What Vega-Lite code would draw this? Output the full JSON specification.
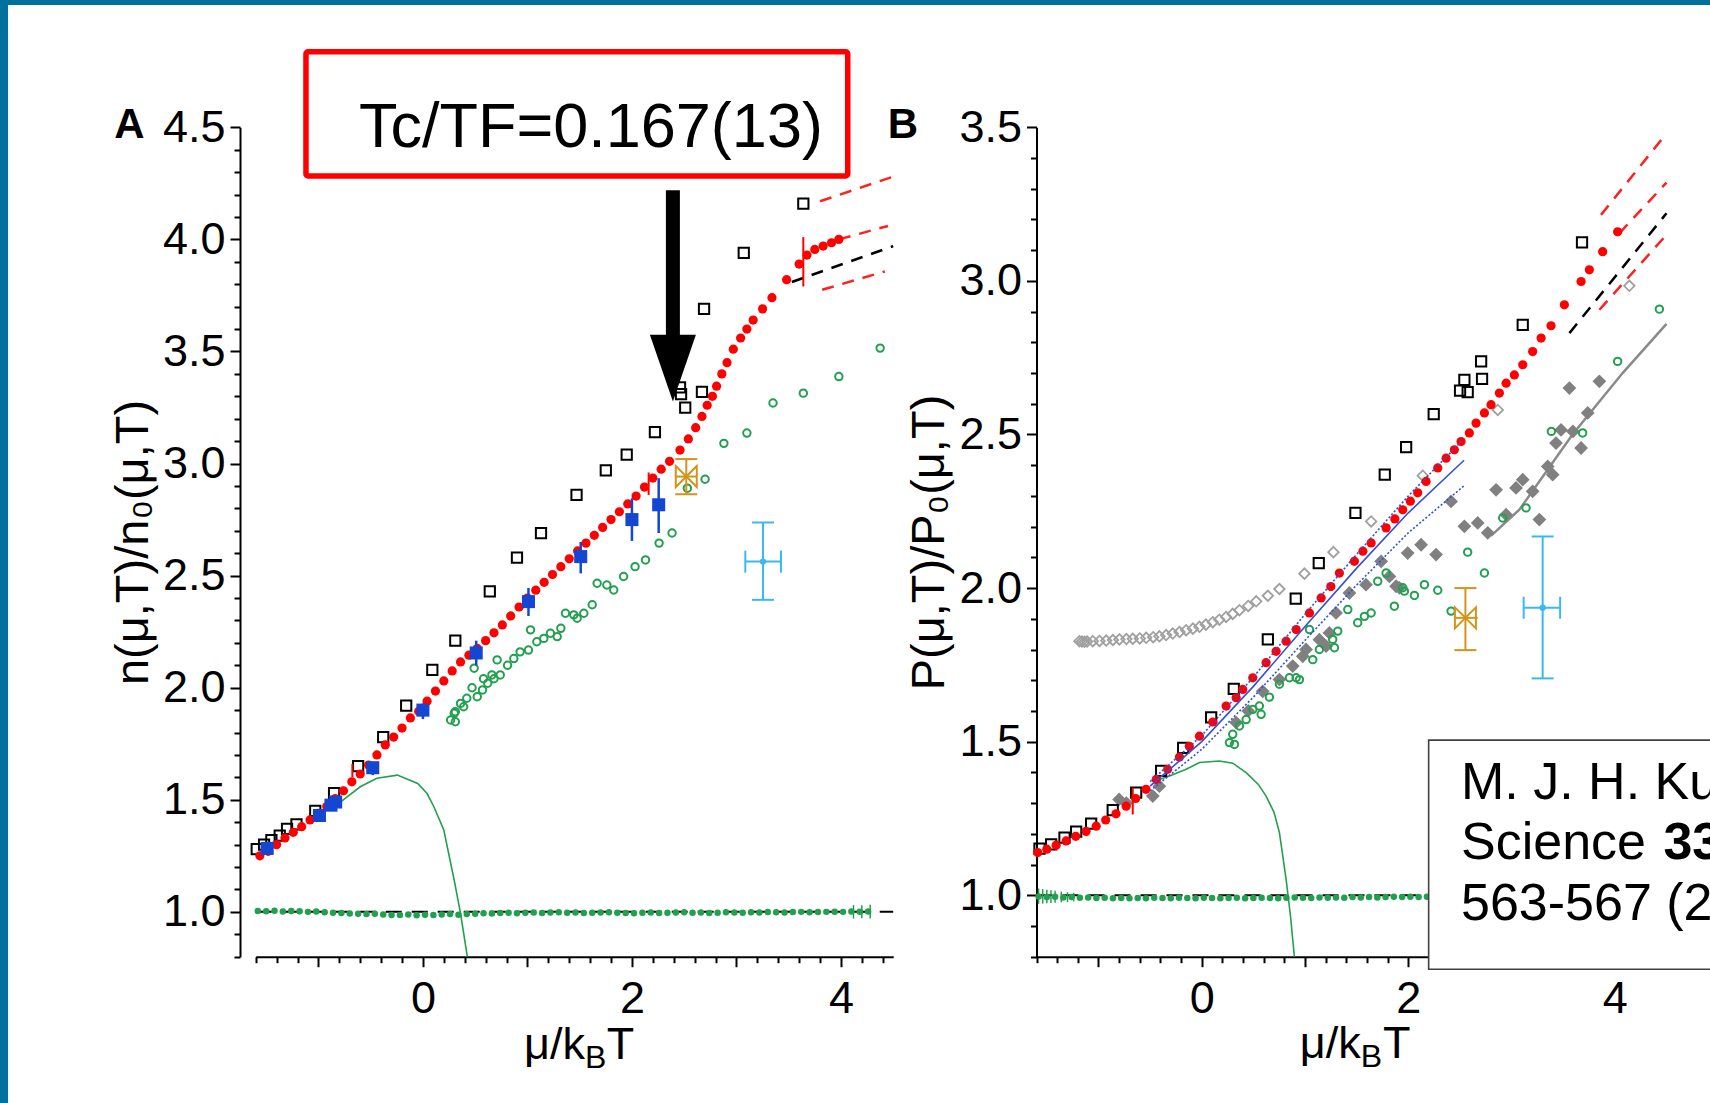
{
"$schema":"https://vega.github.io/schema/vega-lite/v6.json",
"width":1702,"height":1098,
"autosize":{"type":"none"},
"padding":{"left":8,"top":5,"right":0,"bottom":0},
"background":"#00709C",
"config":{"view":{"fill":"white","stroke":null},"font":"Liberation Sans",
 "axis":{"labelFont":"Liberation Sans","labelFontSize":45,"labelColor":"#000000","titleFont":"Liberation Sans","titleFontSize":47,"titleFontWeight":"normal","titleColor":"#000000","domainColor":"#000000","domainWidth":2,"tickColor":"#000000","tickWidth":2,"grid":false,"labelOverlap":false,"labelBound":false,"labelFlush":false}},
"datasets":{
"sqA":[{"x":-1.59,"y":1.28},{"x":-1.52,"y":1.30},{"x":-1.45,"y":1.32},{"x":-1.37,"y":1.34},{"x":-1.30,"y":1.37},{"x":-1.21,"y":1.39},{"x":-1.03,"y":1.45},{"x":-0.85,"y":1.53},{"x":-0.62,"y":1.65},{"x":-0.38,"y":1.78},{"x":-0.16,"y":1.92},{"x":0.09,"y":2.08},{"x":0.31,"y":2.21},{"x":0.64,"y":2.43},{"x":0.90,"y":2.58},{"x":1.13,"y":2.69},{"x":1.47,"y":2.86},{"x":1.75,"y":2.97},{"x":1.95,"y":3.04},{"x":2.22,"y":3.14},{"x":2.46,"y":3.34},{"x":2.47,"y":3.31},{"x":2.51,"y":3.25},{"x":2.67,"y":3.32},{"x":2.69,"y":3.69},{"x":3.07,"y":3.94},{"x":3.64,"y":4.16}],
"redA":[{"x":-1.56,"y":1.25},{"x":-1.48,"y":1.27},{"x":-1.40,"y":1.30},{"x":-1.32,"y":1.33},{"x":-1.24,"y":1.355},{"x":-1.16,"y":1.38},{"x":-1.08,"y":1.41},{"x":-1.00,"y":1.44},{"x":-0.92,"y":1.47},{"x":-0.84,"y":1.505},{"x":-0.76,"y":1.54},{"x":-0.68,"y":1.58},{"x":-0.60,"y":1.615},{"x":-0.52,"y":1.655},{"x":-0.44,"y":1.70},{"x":-0.36,"y":1.745},{"x":-0.28,"y":1.78},{"x":-0.20,"y":1.82},{"x":-0.12,"y":1.865},{"x":-0.04,"y":1.895},{"x":0.04,"y":1.94},{"x":0.12,"y":1.985},{"x":0.20,"y":2.03},{"x":0.28,"y":2.075},{"x":0.36,"y":2.115},{"x":0.44,"y":2.145},{"x":0.52,"y":2.175},{"x":0.60,"y":2.21},{"x":0.68,"y":2.245},{"x":0.76,"y":2.28},{"x":0.84,"y":2.32},{"x":0.92,"y":2.36},{"x":1.00,"y":2.40},{"x":1.08,"y":2.435},{"x":1.16,"y":2.47},{"x":1.24,"y":2.505},{"x":1.32,"y":2.54},{"x":1.40,"y":2.575},{"x":1.48,"y":2.61},{"x":1.56,"y":2.645},{"x":1.64,"y":2.68},{"x":1.72,"y":2.715},{"x":1.80,"y":2.75},{"x":1.88,"y":2.785},{"x":1.96,"y":2.82},{"x":2.04,"y":2.855},{"x":2.12,"y":2.895},{"x":2.20,"y":2.935},{"x":2.28,"y":2.975},{"x":2.36,"y":3.01},{"x":2.46,"y":3.06},{"x":2.54,"y":3.11},{"x":2.61,"y":3.16},{"x":2.67,"y":3.21},{"x":2.72,"y":3.26},{"x":2.77,"y":3.30},{"x":2.81,"y":3.345},{"x":2.86,"y":3.40},{"x":2.91,"y":3.45},{"x":2.97,"y":3.51},{"x":3.04,"y":3.56},{"x":3.10,"y":3.60},{"x":3.16,"y":3.64},{"x":3.25,"y":3.69},{"x":3.34,"y":3.74},{"x":3.48,"y":3.82},{"x":3.60,"y":3.89},{"x":3.675,"y":3.93},{"x":3.75,"y":3.955},{"x":3.83,"y":3.97},{"x":3.91,"y":3.985},{"x":3.98,"y":4.00}],
"bluA":[{"x":-1.49,"y":1.283},{"x":-0.99,"y":1.43},{"x":-0.88,"y":1.476},{"x":-0.835,"y":1.49},{"x":-0.48,"y":1.643},{"x":0.0,"y":1.90},{"x":0.51,"y":2.155},{"x":1.01,"y":2.384},{"x":1.51,"y":2.585},{"x":2.0,"y":2.75},{"x":2.256,"y":2.816}],
"bluErrA":[{"x":-1.49,"y":1.26,"y2":1.30},{"x":-0.99,"y":1.41,"y2":1.45},{"x":-0.88,"y":1.455,"y2":1.495},{"x":-0.835,"y":1.47,"y2":1.51},{"x":-0.48,"y":1.61,"y2":1.67},{"x":0.0,"y":1.86,"y2":1.93},{"x":0.51,"y":2.10,"y2":2.21},{"x":1.01,"y":2.32,"y2":2.445},{"x":1.51,"y":2.51,"y2":2.65},{"x":2.0,"y":2.655,"y2":2.845},{"x":2.256,"y":2.69,"y2":2.935}],
"grnA":[{"x":0.265,"y":1.856},{"x":0.30,"y":1.886},{"x":0.31,"y":1.848},{"x":0.31,"y":1.893},{"x":0.36,"y":1.93},{"x":0.39,"y":1.915},{"x":0.42,"y":1.953},{"x":0.47,"y":2.00},{"x":0.49,"y":2.087},{"x":0.52,"y":1.96},{"x":0.57,"y":1.99},{"x":0.58,"y":2.04},{"x":0.62,"y":2.02},{"x":0.66,"y":2.057},{"x":0.68,"y":2.04},{"x":0.71,"y":2.124},{"x":0.74,"y":2.057},{"x":0.81,"y":2.10},{"x":0.87,"y":2.13},{"x":0.93,"y":2.16},{"x":1.01,"y":2.168},{"x":1.03,"y":2.258},{"x":1.09,"y":2.205},{"x":1.157,"y":2.22},{"x":1.22,"y":2.243},{"x":1.285,"y":2.228},{"x":1.32,"y":2.265},{"x":1.364,"y":2.332},{"x":1.444,"y":2.325},{"x":1.476,"y":2.31},{"x":1.54,"y":2.332},{"x":1.62,"y":2.37},{"x":1.667,"y":2.466},{"x":1.76,"y":2.458},{"x":1.826,"y":2.436},{"x":1.92,"y":2.496},{"x":2.03,"y":2.54},{"x":2.13,"y":2.57},{"x":2.26,"y":2.645},{"x":2.384,"y":2.69},{"x":2.53,"y":2.89},{"x":2.70,"y":2.93},{"x":2.88,"y":3.09},{"x":3.10,"y":3.136},{"x":3.35,"y":3.27},{"x":3.64,"y":3.314},{"x":3.98,"y":3.388},{"x":4.375,"y":3.515}],
"curveA":[{"x":-0.85,"y":1.47},{"x":-0.79,"y":1.49},{"x":-0.60,"y":1.558},{"x":-0.44,"y":1.596},{"x":-0.245,"y":1.61},{"x":-0.05,"y":1.573},{"x":0.04,"y":1.528},{"x":0.105,"y":1.469},{"x":0.20,"y":1.365},{"x":0.30,"y":1.14},{"x":0.36,"y":0.993},{"x":0.425,"y":0.80}],
"oneA":[{"x":-1.6,"y":1.0},{"x":4.5,"y":1.0}],
"g1A":[{"x":-1.58,"y":1.004},{"x":-1.50,"y":1.003},{"x":-1.42,"y":1.005},{"x":-1.34,"y":1.002},{"x":-1.26,"y":1.004},{"x":-1.18,"y":1.003},{"x":-1.10,"y":1.0},{"x":-1.02,"y":1.002},{"x":-0.94,"y":0.998},{"x":-0.86,"y":0.996},{"x":-0.78,"y":0.995},{"x":-0.70,"y":0.993},{"x":-0.62,"y":0.992},{"x":-0.54,"y":0.99},{"x":-0.46,"y":0.992},{"x":-0.38,"y":0.988},{"x":-0.30,"y":0.986},{"x":-0.22,"y":0.986},{"x":-0.14,"y":0.988},{"x":-0.06,"y":0.985},{"x":0.02,"y":0.987},{"x":0.10,"y":0.986},{"x":0.18,"y":0.988},{"x":0.26,"y":0.99},{"x":0.34,"y":0.987},{"x":0.42,"y":0.99},{"x":0.50,"y":0.992},{"x":0.58,"y":0.994},{"x":0.66,"y":0.993},{"x":0.74,"y":0.995},{"x":0.82,"y":0.996},{"x":0.90,"y":0.994},{"x":0.98,"y":0.996},{"x":1.06,"y":0.997},{"x":1.14,"y":0.995},{"x":1.22,"y":0.997},{"x":1.30,"y":0.998},{"x":1.38,"y":0.996},{"x":1.46,"y":0.997},{"x":1.54,"y":0.995},{"x":1.62,"y":0.996},{"x":1.70,"y":0.997},{"x":1.78,"y":0.998},{"x":1.86,"y":0.996},{"x":1.94,"y":0.995},{"x":2.02,"y":0.994},{"x":2.10,"y":0.996},{"x":2.18,"y":0.997},{"x":2.26,"y":0.995},{"x":2.34,"y":0.996},{"x":2.42,"y":0.997},{"x":2.50,"y":0.998},{"x":2.58,"y":0.996},{"x":2.66,"y":0.997},{"x":2.74,"y":0.995},{"x":2.82,"y":0.996},{"x":2.90,"y":0.998},{"x":2.98,"y":0.997},{"x":3.06,"y":0.996},{"x":3.14,"y":0.998},{"x":3.22,"y":0.997},{"x":3.30,"y":0.999},{"x":3.38,"y":0.998},{"x":3.46,"y":0.997},{"x":3.54,"y":0.999},{"x":3.62,"y":1.0},{"x":3.70,"y":0.998},{"x":3.78,"y":0.999},{"x":3.86,"y":1.0},{"x":3.94,"y":1.001},{"x":4.02,"y":1.0},{"x":4.10,"y":1.002},{"x":4.18,"y":1.001},{"x":4.26,"y":1.002}],
"g1errA":[{"x":4.12,"y":0.97,"y2":1.03},{"x":4.20,"y":0.972,"y2":1.03},{"x":4.28,"y":0.97,"y2":1.032}],
"rdashA":[{"s":"a","x":3.80,"y":4.17},{"s":"a","x":4.5,"y":4.28},{"s":"b","x":3.98,"y":4.0},{"s":"b","x":4.45,"y":4.06},{"s":"c","x":3.82,"y":3.775},{"s":"c","x":4.42,"y":3.857}],
"kdashA":[{"x":3.53,"y":3.81},{"x":4.5,"y":3.97}],
"rerrA":[{"x":-0.675,"y":1.60,"y2":1.66},{"x":2.16,"y":2.86,"y2":2.96},{"x":3.64,"y":3.79,"y2":4.01}],
"orPtA":[{"x":2.52,"y":2.942}],
"orVA":[{"x":2.52,"y":2.863,"y2":3.02}],
"orHA":[{"x":2.416,"x2":2.623,"y":2.942}],
"orCapA":[{"x":2.52,"y":2.863},{"x":2.52,"y":3.02}],
"lbPtA":[{"x":3.254,"y":2.5625}],
"lbVA":[{"x":3.254,"y":2.392,"y2":2.737}],
"lbHA":[{"x":3.085,"x2":3.426,"y":2.5625}],
"lbCapHA":[{"x":3.254,"y":2.392},{"x":3.254,"y":2.737}],
"lbCapVA":[{"x":3.085,"y":2.5625},{"x":3.426,"y":2.5625}],
"sqB":[{"x":-1.571,"y":1.152},{"x":-1.458,"y":1.166},{"x":-1.329,"y":1.188},{"x":-1.216,"y":1.207},{"x":-1.071,"y":1.233},{"x":-0.862,"y":1.277},{"x":-0.635,"y":1.334},{"x":-0.393,"y":1.405},{"x":-0.18,"y":1.48},{"x":0.091,"y":1.579},{"x":0.31,"y":1.672},{"x":0.64,"y":1.833},{"x":0.91,"y":1.966},{"x":1.133,"y":2.081},{"x":1.488,"y":2.245},{"x":1.772,"y":2.369},{"x":1.979,"y":2.459},{"x":2.246,"y":2.566},{"x":2.501,"y":2.643},{"x":2.543,"y":2.678},{"x":2.575,"y":2.638},{"x":2.714,"y":2.681},{"x":2.705,"y":2.738},{"x":3.108,"y":2.857},{"x":3.682,"y":3.125}],
"redB":[{"x":-1.588,"y":1.139},{"x":-1.50,"y":1.15},{"x":-1.41,"y":1.163},{"x":-1.313,"y":1.177},{"x":-1.22,"y":1.192},{"x":-1.12,"y":1.208},{"x":-1.022,"y":1.225},{"x":-0.93,"y":1.245},{"x":-0.83,"y":1.265},{"x":-0.732,"y":1.29},{"x":-0.64,"y":1.315},{"x":-0.54,"y":1.345},{"x":-0.441,"y":1.377},{"x":-0.33,"y":1.41},{"x":-0.216,"y":1.45},{"x":-0.12,"y":1.485},{"x":-0.022,"y":1.518},{"x":0.107,"y":1.564},{"x":0.236,"y":1.616},{"x":0.333,"y":1.643},{"x":0.397,"y":1.67},{"x":0.494,"y":1.708},{"x":0.623,"y":1.757},{"x":0.72,"y":1.794},{"x":0.817,"y":1.827},{"x":0.914,"y":1.865},{"x":1.043,"y":1.919},{"x":1.156,"y":1.968},{"x":1.25,"y":2.005},{"x":1.333,"y":2.049},{"x":1.478,"y":2.087},{"x":1.56,"y":2.12},{"x":1.64,"y":2.147},{"x":1.785,"y":2.196},{"x":1.87,"y":2.225},{"x":1.946,"y":2.255},{"x":2.02,"y":2.283},{"x":2.091,"y":2.31},{"x":2.172,"y":2.347},{"x":2.285,"y":2.391},{"x":2.366,"y":2.423},{"x":2.446,"y":2.45},{"x":2.511,"y":2.477},{"x":2.591,"y":2.505},{"x":2.656,"y":2.537},{"x":2.737,"y":2.57},{"x":2.801,"y":2.597},{"x":2.882,"y":2.635},{"x":2.947,"y":2.667},{"x":3.027,"y":2.694},{"x":3.108,"y":2.727},{"x":3.204,"y":2.77},{"x":3.286,"y":2.814},{"x":3.382,"y":2.854},{"x":3.511,"y":2.922},{"x":3.673,"y":2.998},{"x":3.753,"y":3.036},{"x":3.882,"y":3.095},{"x":4.027,"y":3.16}],
"gdoB":[{"x":-1.184,"y":1.827},{"x":-1.16,"y":1.826},{"x":-1.135,"y":1.825},{"x":-1.11,"y":1.826},{"x":-1.055,"y":1.827},{"x":-0.99,"y":1.828},{"x":-0.925,"y":1.829},{"x":-0.86,"y":1.831},{"x":-0.797,"y":1.833},{"x":-0.73,"y":1.834},{"x":-0.668,"y":1.835},{"x":-0.60,"y":1.836},{"x":-0.538,"y":1.838},{"x":-0.47,"y":1.84},{"x":-0.41,"y":1.843},{"x":-0.345,"y":1.847},{"x":-0.281,"y":1.852},{"x":-0.215,"y":1.857},{"x":-0.151,"y":1.863},{"x":-0.085,"y":1.868},{"x":-0.022,"y":1.874},{"x":0.04,"y":1.881},{"x":0.107,"y":1.889},{"x":0.17,"y":1.897},{"x":0.236,"y":1.906},{"x":0.30,"y":1.916},{"x":0.365,"y":1.928},{"x":0.45,"y":1.942},{"x":0.527,"y":1.957},{"x":0.64,"y":1.975},{"x":0.752,"y":1.997},{"x":0.994,"y":2.047},{"x":1.275,"y":2.117},{"x":1.64,"y":2.217},{"x":2.14,"y":2.366},{"x":2.866,"y":2.58},{"x":4.14,"y":2.984}],
"gdfB":[{"x":-0.80,"y":1.312},{"x":-0.73,"y":1.30},{"x":-0.474,"y":1.323},{"x":-0.41,"y":1.355},{"x":0.333,"y":1.562},{"x":0.45,"y":1.60},{"x":0.59,"y":1.664},{"x":0.752,"y":1.702},{"x":0.881,"y":1.746},{"x":0.978,"y":1.778},{"x":1.01,"y":1.80},{"x":1.139,"y":1.832},{"x":1.204,"y":1.811},{"x":1.236,"y":1.854},{"x":1.30,"y":1.919},{"x":1.43,"y":1.984},{"x":1.59,"y":2.011},{"x":1.737,"y":2.087},{"x":1.817,"y":2.038},{"x":1.882,"y":2.006},{"x":1.914,"y":2.001},{"x":1.994,"y":2.114},{"x":2.124,"y":2.141},{"x":2.269,"y":2.109},{"x":2.414,"y":2.282},{"x":2.543,"y":2.201},{"x":2.672,"y":2.212},{"x":2.769,"y":2.18},{"x":2.85,"y":2.32},{"x":2.947,"y":2.239},{"x":3.043,"y":2.326},{"x":3.108,"y":2.353},{"x":3.204,"y":2.315},{"x":3.269,"y":2.223},{"x":3.35,"y":2.396},{"x":3.398,"y":2.369},{"x":3.43,"y":2.472},{"x":3.479,"y":2.515},{"x":3.56,"y":2.651},{"x":3.594,"y":2.51},{"x":3.673,"y":2.456},{"x":3.737,"y":2.57},{"x":3.85,"y":2.673}],
"grnB":[{"x":0.268,"y":1.497},{"x":0.30,"y":1.524},{"x":0.317,"y":1.491},{"x":0.365,"y":1.551},{"x":0.43,"y":1.572},{"x":0.494,"y":1.605},{"x":0.558,"y":1.616},{"x":0.575,"y":1.589},{"x":0.655,"y":1.645},{"x":0.752,"y":1.687},{"x":0.849,"y":1.708},{"x":0.914,"y":1.708},{"x":0.946,"y":1.702},{"x":1.043,"y":1.865},{"x":1.075,"y":1.767},{"x":1.139,"y":1.80},{"x":1.268,"y":1.833},{"x":1.285,"y":1.806},{"x":1.317,"y":1.86},{"x":1.414,"y":1.93},{"x":1.51,"y":1.887},{"x":1.575,"y":1.908},{"x":1.64,"y":1.919},{"x":1.704,"y":2.022},{"x":1.785,"y":2.049},{"x":1.865,"y":1.941},{"x":1.946,"y":2.001},{"x":1.962,"y":1.99},{"x":2.059,"y":1.976},{"x":2.156,"y":2.011},{"x":2.285,"y":1.993},{"x":2.414,"y":1.925},{"x":2.575,"y":2.117},{"x":2.737,"y":2.049},{"x":2.914,"y":2.228},{"x":3.14,"y":2.261},{"x":3.385,"y":2.51},{"x":3.688,"y":2.505},{"x":4.027,"y":2.738},{"x":4.431,"y":2.908}],
"curveB":[{"x":-0.41,"y":1.377},{"x":-0.30,"y":1.39},{"x":-0.151,"y":1.41},{"x":-0.022,"y":1.432},{"x":0.171,"y":1.437},{"x":0.30,"y":1.43},{"x":0.43,"y":1.399},{"x":0.55,"y":1.36},{"x":0.623,"y":1.323},{"x":0.70,"y":1.27},{"x":0.752,"y":1.204},{"x":0.817,"y":1.052},{"x":0.86,"y":0.93},{"x":0.897,"y":0.80}],
"oneB":[{"x":-1.6,"y":1.0},{"x":4.5,"y":1.0}],
"g1B":[{"x":-1.58,"y":0.996},{"x":-1.50,"y":0.994},{"x":-1.42,"y":0.995},{"x":-1.34,"y":0.993},{"x":-1.26,"y":0.994},{"x":-1.18,"y":0.992},{"x":-1.10,"y":0.993},{"x":-1.02,"y":0.991},{"x":-0.94,"y":0.992},{"x":-0.86,"y":0.99},{"x":-0.78,"y":0.991},{"x":-0.70,"y":0.99},{"x":-0.62,"y":0.991},{"x":-0.54,"y":0.99},{"x":-0.46,"y":0.992},{"x":-0.38,"y":0.991},{"x":-0.30,"y":0.99},{"x":-0.22,"y":0.992},{"x":-0.14,"y":0.991},{"x":-0.06,"y":0.99},{"x":0.02,"y":0.992},{"x":0.10,"y":0.991},{"x":0.18,"y":0.99},{"x":0.26,"y":0.991},{"x":0.34,"y":0.992},{"x":0.42,"y":0.99},{"x":0.50,"y":0.991},{"x":0.58,"y":0.992},{"x":0.66,"y":0.991},{"x":0.74,"y":0.99},{"x":0.82,"y":0.992},{"x":0.90,"y":0.993},{"x":0.98,"y":0.992},{"x":1.06,"y":0.991},{"x":1.14,"y":0.993},{"x":1.22,"y":0.992},{"x":1.30,"y":0.993},{"x":1.38,"y":0.992},{"x":1.46,"y":0.994},{"x":1.54,"y":0.993},{"x":1.62,"y":0.994},{"x":1.70,"y":0.993},{"x":1.78,"y":0.994},{"x":1.86,"y":0.995},{"x":1.94,"y":0.994},{"x":2.02,"y":0.995},{"x":2.10,"y":0.994},{"x":2.18,"y":0.995}],
"g1errB":[{"x":-1.58,"y":0.972,"y2":1.022},{"x":-1.54,"y":0.973,"y2":1.02},{"x":-1.50,"y":0.974,"y2":1.018},{"x":-1.46,"y":0.975,"y2":1.016},{"x":-1.42,"y":0.976,"y2":1.015},{"x":-1.36,"y":0.977,"y2":1.012},{"x":-1.30,"y":0.978,"y2":1.01},{"x":-1.24,"y":0.98,"y2":1.008}],
"rdashB":[{"s":"a","x":3.866,"y":3.215},{"s":"a","x":4.5,"y":3.48},{"s":"b","x":4.043,"y":3.155},{"s":"b","x":4.5,"y":3.32},{"s":"c","x":3.85,"y":2.906},{"s":"c","x":4.5,"y":3.15}],
"kdashB":[{"x":3.56,"y":2.83},{"x":4.5,"y":3.22}],
"greyB":[{"x":2.80,"y":2.17},{"x":3.075,"y":2.255},{"x":3.59,"y":2.50},{"x":4.075,"y":2.70},{"x":4.5,"y":2.86}],
"bluBm":[{"x":-0.5,"y":1.355},{"x":0,"y":1.50},{"x":0.5,"y":1.68},{"x":1.0,"y":1.875},{"x":1.5,"y":2.065},{"x":2.0,"y":2.245},{"x":2.54,"y":2.416}],
"bluBd":[{"s":"u","x":-0.5,"y":1.37},{"s":"u","x":0,"y":1.52},{"s":"u","x":0.5,"y":1.71},{"s":"u","x":1.0,"y":1.915},{"s":"u","x":1.5,"y":2.11},{"s":"u","x":2.0,"y":2.30},{"s":"u","x":2.53,"y":2.483},{"s":"l","x":-0.5,"y":1.34},{"s":"l","x":0,"y":1.475},{"s":"l","x":0.5,"y":1.645},{"s":"l","x":1.0,"y":1.83},{"s":"l","x":1.5,"y":2.01},{"s":"l","x":2.0,"y":2.18},{"s":"l","x":2.54,"y":2.333}],
"rerrB":[{"x":-0.668,"y":1.263,"y2":1.35}],
"orPtB":[{"x":2.553,"y":1.903}],
"orVB":[{"x":2.553,"y":1.798,"y2":2.0}],
"orHB":[{"x":2.446,"x2":2.672,"y":1.903}],
"orCapB":[{"x":2.553,"y":1.798},{"x":2.553,"y":2.0}],
"lbPtB":[{"x":3.301,"y":1.936}],
"lbVB":[{"x":3.301,"y":1.706,"y2":2.168}],
"lbHB":[{"x":3.117,"x2":3.47,"y":1.936}],
"lbCapHB":[{"x":3.301,"y":1.706},{"x":3.301,"y":2.168}],
"lbCapVB":[{"x":3.117,"y":1.936},{"x":3.47,"y":1.936}]
},
"layer":[
{
"encoding":{
 "x":{"field":"x","type":"quantitative","scale":{"domain":[-1.6,4.5],"range":[247.7,885.2],"nice":false,"zero":false},
  "axis":{"orient":"bottom","offset":-146.3,"values":[-1.6,-1.4,-1.2,-1,-0.8,-0.6,-0.4,-0.2,0,0.2,0.4,0.6,0.8,1,1.2,1.4,1.6,1.8,2,2.2,2.4,2.6,2.8,3,3.2,3.4,3.6,3.8,4,4.2,4.4],
   "tickSize":{"condition":{"test":"abs(datum.value-round(datum.value))<0.001","value":10},"value":6},
   "labelExpr":"(abs(datum.value-round(datum.value))<0.001 && round(datum.value)%2==0) ? format(round(datum.value),'d') : ''",
   "labelPadding":10,"title":null}},
 "y":{"field":"y","type":"quantitative","scale":{"domain":[0.8,4.5],"range":[951.7,122.3],"nice":false,"zero":false},
  "axis":{"orient":"left","offset":-232,"values":[0.8,0.9,1,1.1,1.2,1.3,1.4,1.5,1.6,1.7,1.8,1.9,2,2.1,2.2,2.3,2.4,2.5,2.6,2.7,2.8,2.9,3,3.1,3.2,3.3,3.4,3.5,3.6,3.7,3.8,3.9,4,4.1,4.2,4.3,4.4,4.5],
   "tickSize":{"condition":{"test":"abs(datum.value*2-round(datum.value*2))<0.001","value":10},"value":6},
   "labelExpr":"abs(datum.value*2-round(datum.value*2))<0.001 ? format(datum.value,'.1f') : ''",
   "labelPadding":5,"title":"n(μ,T)/n₀(μ,T)","titlePadding":5}}
},
"layer":[
 {"data":{"name":"curveA"},"mark":{"type":"line","color":"#22A050","strokeWidth":1.6}},
 {"data":{"name":"oneA"},"mark":{"type":"line","color":"#000000","strokeWidth":2,"strokeDash":[16,10]}},
 {"data":{"name":"g1A"},"mark":{"type":"point","shape":"circle","filled":true,"color":"#22A050","size":42,"opacity":1}},
 {"data":{"name":"g1errA"},"mark":{"type":"rule","color":"#22A050","strokeWidth":1.5},"encoding":{"y2":{"field":"y2"}}},
 {"data":{"name":"rdashA"},"mark":{"type":"line","color":"#FF2020","strokeWidth":2.5,"strokeDash":[12,9]},"encoding":{"detail":{"field":"s"}}},
 {"data":{"name":"kdashA"},"mark":{"type":"line","color":"#000000","strokeWidth":2.5,"strokeDash":[12,9]}},
 {"data":{"name":"grnA"},"mark":{"type":"point","shape":"circle","filled":false,"color":"#22A050","strokeWidth":2,"size":55,"opacity":1}},
 {"data":{"name":"sqA"},"mark":{"type":"point","shape":"square","filled":false,"color":"#000000","strokeWidth":2,"size":105,"opacity":1}},
 {"data":{"name":"redA"},"mark":{"type":"point","shape":"circle","filled":true,"color":"#FF0000","size":85,"opacity":1}},
 {"data":{"name":"rerrA"},"mark":{"type":"rule","color":"#FF0000","strokeWidth":2},"encoding":{"y2":{"field":"y2"}}},
 {"data":{"name":"bluErrA"},"mark":{"type":"rule","color":"#1446D2","strokeWidth":2.5},"encoding":{"y2":{"field":"y2"}}},
 {"data":{"name":"bluA"},"mark":{"type":"point","shape":"square","filled":true,"color":"#1446D2","size":170,"opacity":1}},
 {"data":{"name":"orVA"},"mark":{"type":"rule","color":"#D4941C","strokeWidth":2},"encoding":{"y2":{"field":"y2"}}},
 {"data":{"name":"orHA"},"mark":{"type":"rule","color":"#D4941C","strokeWidth":2},"encoding":{"x2":{"field":"x2"}}},
 {"data":{"name":"orCapA"},"mark":{"type":"tick","orient":"horizontal","size":22,"thickness":2,"color":"#D4941C","opacity":1}},
 {"data":{"name":"orPtA"},"mark":{"type":"point","shape":"M-1,-1L0,0L-1,1Z M1,-1L0,0L1,1Z","filled":false,"color":"#D4941C","strokeWidth":2,"size":441,"opacity":1}},
 {"data":{"name":"lbVA"},"mark":{"type":"rule","color":"#3CB8F0","strokeWidth":2},"encoding":{"y2":{"field":"y2"}}},
 {"data":{"name":"lbHA"},"mark":{"type":"rule","color":"#3CB8F0","strokeWidth":2},"encoding":{"x2":{"field":"x2"}}},
 {"data":{"name":"lbCapHA"},"mark":{"type":"tick","orient":"horizontal","size":22,"thickness":2,"color":"#3CB8F0","opacity":1}},
 {"data":{"name":"lbCapVA"},"mark":{"type":"tick","orient":"vertical","size":22,"thickness":2,"color":"#3CB8F0","opacity":1}},
 {"data":{"name":"lbPtA"},"mark":{"type":"point","shape":"circle","filled":true,"color":"#3CB8F0","size":40,"opacity":1}},
 {"data":{"values":[{"x":-1.119,"x2":4.065,"y":4.283,"y2":4.837}]},"mark":{"type":"rect","fill":"#FFFFFF","fillOpacity":0,"stroke":"#FF0000","strokeWidth":5.5,"cornerRadius":2},"encoding":{"x2":{"field":"x2"},"y2":{"field":"y2"}}},
 {"data":{"values":[{"t":"Tc/TF=0.167(13)","x":-0.612,"y":4.413}]},"mark":{"type":"text","align":"left","baseline":"alphabetic","font":"Liberation Sans","fontSize":63,"color":"#000000"},"encoding":{"text":{"field":"t"}}},
 {"data":{"values":[{"x":2.392,"y":3.55,"y2":4.219}]},"mark":{"type":"rule","color":"#000000","strokeWidth":14},"encoding":{"y2":{"field":"y2"}}},
 {"data":{"values":[{"x":2.392,"y":3.426}]},"mark":{"type":"point","shape":"M-1,-1.45L1,-1.45L0,1.45Z","filled":true,"color":"#000000","size":2116,"opacity":1}},
 {"data":{"values":[{"t":"A","x":-2.954,"y":4.453}]},"mark":{"type":"text","align":"left","baseline":"alphabetic","font":"Liberation Sans","fontWeight":"bold","fontSize":42,"color":"#000000"},"encoding":{"text":{"field":"t"}}},
 {"data":{"values":[{"t":"μ/k","x":1.55,"y":0.3424}]},"mark":{"type":"text","align":"right","baseline":"alphabetic","font":"Liberation Sans","fontSize":45,"color":"#000000"},"encoding":{"text":{"field":"t"}}},
 {"data":{"values":[{"t":"B","x":1.55,"y":0.302}]},"mark":{"type":"text","align":"left","baseline":"alphabetic","font":"Liberation Sans","fontSize":32,"color":"#000000"},"encoding":{"text":{"field":"t"}}},
 {"data":{"values":[{"t":"T","x":1.76,"y":0.3424}]},"mark":{"type":"text","align":"left","baseline":"alphabetic","font":"Liberation Sans","fontSize":45,"color":"#000000"},"encoding":{"text":{"field":"t"}}}
]
},
{
"encoding":{
 "x":{"field":"x","type":"quantitative","scale":{"domain":[-1.6,4.5],"range":[1028.5,1658.5],"nice":false,"zero":false},
  "axis":{"orient":"bottom","offset":-146.3,"values":[-1.6,-1.4,-1.2,-1,-0.8,-0.6,-0.4,-0.2,0,0.2,0.4,0.6,0.8,1,1.2,1.4,1.6,1.8,2,2.2,2.4,2.6,2.8,3,3.2,3.4,3.6,3.8,4,4.2,4.4],
   "tickSize":{"condition":{"test":"abs(datum.value-round(datum.value))<0.001","value":10},"value":6},
   "labelExpr":"(abs(datum.value-round(datum.value))<0.001 && round(datum.value)%2==0) ? format(round(datum.value),'d') : ''",
   "labelPadding":10,"title":null}},
 "y":{"field":"y","type":"quantitative","scale":{"domain":[0.8,3.5],"range":[951.7,122.3],"nice":false,"zero":false},
  "axis":{"orient":"left","offset":-1028.5,"values":[0.8,0.9,1,1.1,1.2,1.3,1.4,1.5,1.6,1.7,1.8,1.9,2,2.1,2.2,2.3,2.4,2.5,2.6,2.7,2.8,2.9,3,3.1,3.2,3.3,3.4,3.5],
   "tickSize":{"condition":{"test":"abs(datum.value*2-round(datum.value*2))<0.001","value":10},"value":6},
   "labelExpr":"abs(datum.value*2-round(datum.value*2))<0.001 ? format(datum.value,'.1f') : ''",
   "labelPadding":5,"title":"P(μ,T)/P₀(μ,T)","titlePadding":5}}
},
"layer":[
 {"data":{"name":"curveB"},"mark":{"type":"line","color":"#22A050","strokeWidth":1.6}},
 {"data":{"name":"oneB"},"mark":{"type":"line","color":"#000000","strokeWidth":2,"strokeDash":[16,10]}},
 {"data":{"name":"g1B"},"mark":{"type":"point","shape":"circle","filled":true,"color":"#22A050","size":42,"opacity":1}},
 {"data":{"name":"g1errB"},"mark":{"type":"rule","color":"#22A050","strokeWidth":1.5},"encoding":{"y2":{"field":"y2"}}},
 {"data":{"name":"rdashB"},"mark":{"type":"line","color":"#FF2020","strokeWidth":2.5,"strokeDash":[12,9]},"encoding":{"detail":{"field":"s"}}},
 {"data":{"name":"kdashB"},"mark":{"type":"line","color":"#000000","strokeWidth":2.5,"strokeDash":[12,9]}},
 {"data":{"name":"greyB"},"mark":{"type":"line","color":"#8A8A8A","strokeWidth":2.5}},
 {"data":{"name":"gdoB"},"mark":{"type":"point","shape":"diamond","filled":false,"color":"#A0A0A0","strokeWidth":1.8,"size":110,"opacity":1}},
 {"data":{"name":"gdfB"},"mark":{"type":"point","shape":"diamond","filled":true,"color":"#808080","size":190,"opacity":1}},
 {"data":{"name":"grnB"},"mark":{"type":"point","shape":"circle","filled":false,"color":"#22A050","strokeWidth":2,"size":55,"opacity":1}},
 {"data":{"name":"sqB"},"mark":{"type":"point","shape":"square","filled":false,"color":"#000000","strokeWidth":2,"size":105,"opacity":1}},
 {"data":{"name":"redB"},"mark":{"type":"point","shape":"circle","filled":true,"color":"#FF0000","size":85,"opacity":1}},
 {"data":{"name":"bluBm"},"mark":{"type":"line","color":"#3050E0","strokeWidth":1.6}},
 {"data":{"name":"bluBd"},"mark":{"type":"line","color":"#3050E0","strokeWidth":1.6,"strokeDash":[2,2]},"encoding":{"detail":{"field":"s"}}},
 {"data":{"name":"rerrB"},"mark":{"type":"rule","color":"#FF0000","strokeWidth":2},"encoding":{"y2":{"field":"y2"}}},
 {"data":{"name":"orVB"},"mark":{"type":"rule","color":"#D4941C","strokeWidth":2},"encoding":{"y2":{"field":"y2"}}},
 {"data":{"name":"orHB"},"mark":{"type":"rule","color":"#D4941C","strokeWidth":2},"encoding":{"x2":{"field":"x2"}}},
 {"data":{"name":"orCapB"},"mark":{"type":"tick","orient":"horizontal","size":22,"thickness":2,"color":"#D4941C","opacity":1}},
 {"data":{"name":"orPtB"},"mark":{"type":"point","shape":"M-1,-1L0,0L-1,1Z M1,-1L0,0L1,1Z","filled":false,"color":"#D4941C","strokeWidth":2,"size":441,"opacity":1}},
 {"data":{"name":"lbVB"},"mark":{"type":"rule","color":"#3CB8F0","strokeWidth":2},"encoding":{"y2":{"field":"y2"}}},
 {"data":{"name":"lbHB"},"mark":{"type":"rule","color":"#3CB8F0","strokeWidth":2},"encoding":{"x2":{"field":"x2"}}},
 {"data":{"name":"lbCapHB"},"mark":{"type":"tick","orient":"horizontal","size":22,"thickness":2,"color":"#3CB8F0","opacity":1}},
 {"data":{"name":"lbCapVB"},"mark":{"type":"tick","orient":"vertical","size":22,"thickness":2,"color":"#3CB8F0","opacity":1}},
 {"data":{"name":"lbPtB"},"mark":{"type":"point","shape":"circle","filled":true,"color":"#3CB8F0","size":40,"opacity":1}},
 {"data":{"values":[{"t":"B","x":-3.04,"y":3.464}]},"mark":{"type":"text","align":"left","baseline":"alphabetic","font":"Liberation Sans","fontWeight":"bold","fontSize":42,"color":"#000000"},"encoding":{"text":{"field":"t"}}},
 {"data":{"values":[{"t":"μ/k","x":1.54,"y":0.47}]},"mark":{"type":"text","align":"right","baseline":"alphabetic","font":"Liberation Sans","fontSize":45,"color":"#000000"},"encoding":{"text":{"field":"t"}}},
 {"data":{"values":[{"t":"B","x":1.54,"y":0.4407}]},"mark":{"type":"text","align":"left","baseline":"alphabetic","font":"Liberation Sans","fontSize":32,"color":"#000000"},"encoding":{"text":{"field":"t"}}},
 {"data":{"values":[{"t":"T","x":1.755,"y":0.47}]},"mark":{"type":"text","align":"left","baseline":"alphabetic","font":"Liberation Sans","fontSize":45,"color":"#000000"},"encoding":{"text":{"field":"t"}}},
 {"data":{"values":[{"x":2.197,"x2":5.3,"y":0.7593,"y2":1.505}]},"mark":{"type":"rect","fill":"#FFFFFF","stroke":"#404040","strokeWidth":1.6},"encoding":{"x2":{"field":"x2"},"y2":{"field":"y2"}}},
 {"data":{"values":[{"t":"M. J. H. Ku et al.,","x":2.51,"y":1.312},{"t":"Science ","x":2.51,"y":1.117},{"t":"563-567 (2012).","x":2.51,"y":0.92}]},"mark":{"type":"text","align":"left","baseline":"alphabetic","font":"Liberation Sans","fontSize":52,"color":"#000000"},"encoding":{"text":{"field":"t"}}},
 {"data":{"values":[{"t":"335,","x":4.47,"y":1.117}]},"mark":{"type":"text","align":"left","baseline":"alphabetic","font":"Liberation Sans","fontWeight":"bold","fontSize":52,"color":"#000000"},"encoding":{"text":{"field":"t"}}}
]
}
],
"resolve":{"scale":{"x":"independent","y":"independent"},"axis":{"x":"independent","y":"independent"}}
}
